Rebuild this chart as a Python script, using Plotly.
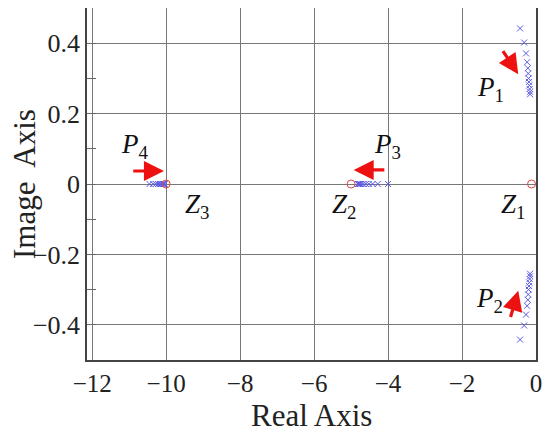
import plotly.graph_objects as go

# poles (crosses)
p1_re = [-0.43, -0.32, -0.27, -0.24, -0.22, -0.21, -0.20, -0.19, -0.18, -0.17, -0.16, -0.16]
p1_im = [0.442, 0.402, 0.371, 0.346, 0.329, 0.314, 0.300, 0.290, 0.280, 0.270, 0.262, 0.255]
p3_re = [-4.0, -4.28, -4.42, -4.52, -4.60, -4.67, -4.72, -4.76, -4.79, -4.81, -4.82]
p4_re = [-10.45, -10.35, -10.28, -10.22, -10.17, -10.13, -10.10, -10.08, -10.06, -10.04]

# zeros (circles)
z_re = [-10.0, -5.0, -0.12]
z_im = [0, 0, 0]

pole_re = p1_re + p1_re + p3_re + p4_re
pole_im = p1_im + [-v for v in p1_im] + [0] * len(p3_re) + [0] * len(p4_re)

# arrows: (tail_x, tail_y, head_x, head_y)
arrows = [(-0.92, 0.382, -0.48, 0.312),
          (-0.70, -0.382, -0.48, -0.303),
          (-10.93, 0.037, -10.06, 0.037),
          (-4.06, 0.040, -4.93, 0.040)]

# labels
lbl_text = ["<i>P</i><sub>1</sub>", "<i>P</i><sub>2</sub>", "<i>P</i><sub>3</sub>", "<i>P</i><sub>4</sub>",
            "<i>Z</i><sub>1</sub>", "<i>Z</i><sub>2</sub>", "<i>Z</i><sub>3</sub>"]
lbl_x = [-1.22, -1.27, -4.02, -10.85, -0.62, -5.18, -9.16]
lbl_y = [0.27, -0.33, 0.108, 0.108, -0.062, -0.062, -0.062]

SERIF = "Liberation Serif, Times New Roman, serif"

fig = go.Figure()
fig.add_trace(go.Scatter(x=pole_re, y=pole_im, mode="markers",
                         marker=dict(symbol="x-thin", size=6, line=dict(color="#5a5ae6", width=1))))
fig.add_trace(go.Scatter(x=z_re, y=z_im, mode="markers",
                         marker=dict(symbol="circle-open", size=8, color="#e04848", line=dict(width=1))))

for tx, ty, hx, hy in arrows:
    fig.add_annotation(x=hx, y=hy, ax=tx, ay=ty, xref="x", yref="y", axref="x", ayref="y",
                       showarrow=True, arrowhead=2, arrowsize=1.25, arrowwidth=3.2,
                       arrowcolor="#ee1111", text="")

for t, x, y in zip(lbl_text, lbl_x, lbl_y):
    fig.add_annotation(x=x, y=y, text=t, showarrow=False,
                       font=dict(family=SERIF, size=27, color="#111"))

# axis titles as annotations so they sit as close as in the reference
fig.add_annotation(x=0.5, y=0, xref="paper", yref="paper", yshift=-55, yanchor="middle",
                   text="Real Axis", showarrow=False,
                   font=dict(family=SERIF, size=31, color="#222"))
fig.add_annotation(x=0, y=0.5, xref="paper", yref="paper", xshift=-63, xanchor="center",
                   text="Image  Axis", textangle=-90, showarrow=False,
                   font=dict(family=SERIF, size=31, color="#222"))

fig.update_xaxes(range=[-12.14, 0], tickvals=[-12, -10, -8, -6, -4, -2, 0],
                 showgrid=True, gridcolor="#777", gridwidth=1,
                 showline=True, linecolor="#444", linewidth=1.5, mirror=True,
                 ticks="", zeroline=False, automargin=False,
                 tickfont=dict(family=SERIF, size=25, color="#222"))
fig.update_yaxes(range=[-0.5, 0.5], dtick=0.2, tick0=0,
                 showgrid=True, gridcolor="#777", gridwidth=1,
                 showline=True, linecolor="#444", linewidth=1.5, mirror=True,
                 ticks="inside", ticklen=9, tickcolor="#666", zeroline=False, automargin=False,
                 minor=dict(dtick=0.1, ticks="inside", ticklen=9, tickcolor="#666", showgrid=False),
                 tickfont=dict(family=SERIF, size=26, color="#222"))

# page body keeps an 8px margin, so the figure is 8px smaller than the window
fig.update_layout(width=542, height=432, showlegend=False,
                  paper_bgcolor="white", plot_bgcolor="white",
                  margin=dict(l=79, r=14, t=0, b=80))
fig.write_html("out.html")
